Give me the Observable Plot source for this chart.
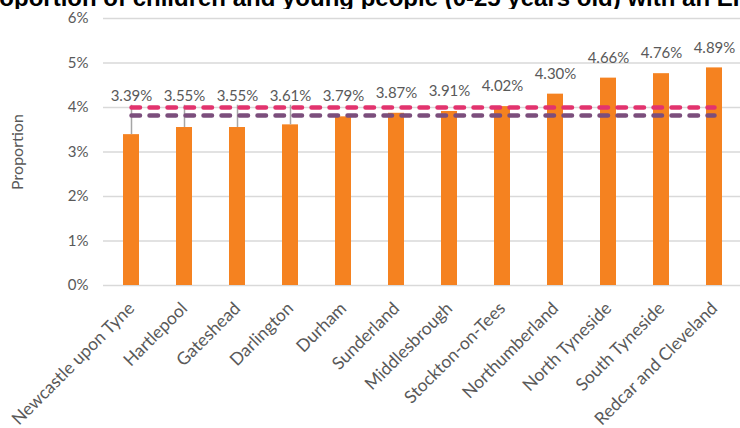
<!DOCTYPE html>
<html><head><meta charset="utf-8">
<script src="https://cdn.jsdelivr.net/npm/d3@7"></script>
<script src="https://cdn.jsdelivr.net/npm/@observablehq/plot@0.6"></script>
<style>
body{margin:0;background:#fff;}
#wrap{width:740px;height:428px;overflow:hidden;position:relative;background:#fff;}
#title{position:relative;height:9px;overflow:hidden;}
#title span{position:absolute;left:-26px;top:-16px;white-space:nowrap;font:bold 24px "Liberation Sans",Arial,sans-serif;color:#000;}
#chart svg{display:block;overflow:visible;}
</style></head><body>
<div id="wrap"><div id="title"><span>Proportion of children and young people (0-25 years old) with an EHCP</span></div><div id="chart"></div></div>
<script>
const areas = ["Newcastle upon Tyne","Hartlepool","Gateshead","Darlington","Durham","Sunderland","Middlesbrough","Stockton-on-Tees","Northumberland","North Tyneside","South Tyneside","Redcar and Cleveland"];
const proportions = [3.39, 3.55, 3.55, 3.61, 3.79, 3.87, 3.91, 4.02, 4.30, 4.66, 4.76, 4.89];
const yTicks = [0, 1, 2, 3, 4, 5, 6];
const benchmarkNames = ["England", "North East"];
const benchmarkValues = [4.00, 3.82];

const data = areas.map((a, i) => ({area: a, value: proportions[i]}));
const benchLine = (i) => [
  {name: benchmarkNames[i], x: areas[0], y: benchmarkValues[i]},
  {name: benchmarkNames[i], x: areas[areas.length - 1], y: benchmarkValues[i]}
];
const labelFloor = 3.8;

const chart = Plot.plot({
  width: 740, height: 419,
  marginTop: 9, marginBottom: 143, marginLeft: 103, marginRight: -3,
  style: {fontFamily: "Lato, sans-serif", background: "white"},
  x: {domain: areas, paddingInner: 0.69, paddingOuter: 0.345, label: null},
  y: {domain: [0, 6], label: null},
  marks: [
    Plot.gridY(yTicks, {stroke: "#d9d9d9", strokeOpacity: 1, strokeWidth: 1.5}),
    Plot.axisY({ticks: yTicks, tickSize: 0, tickPadding: 15, tickFormat: d => d + "%", fontSize: 15, color: "#595959", label: null}),
    Plot.axisX({tickSize: 0, tickRotate: -45, tickPadding: 20, fontSize: 17.5, color: "#595959", label: null}),
    Plot.barY(data, {x: "area", y: "value", fill: "#F58220"}),
    Plot.ruleX(data.filter(d => d.value < 3.7), {x: "area", y1: "value", y2: 4.05, stroke: "#a6a6a6", strokeWidth: 1.5}),
    Plot.line(benchLine(0), {x: "x", y: "y", stroke: "#E2336E", strokeWidth: 4.5, strokeDasharray: "8.5 9.5", strokeLinecap: "round"}),
    Plot.line(benchLine(1), {x: "x", y: "y", stroke: "#7B4E7C", strokeWidth: 4.5, strokeDasharray: "8.5 9.5", strokeLinecap: "round"}),
    Plot.text(data, {x: "area", y: d => Math.max(d.value, labelFloor), text: d => d.value.toFixed(2) + "%", dy: -20, fontSize: 15, fill: "#595959"}),
    Plot.text(["Proportion"], {frameAnchor: "left", textAnchor: "middle", dx: -86, rotate: -90, fontSize: 16, fill: "#595959"})
  ]
});
document.getElementById("chart").appendChild(chart);
</script>
</body></html>
